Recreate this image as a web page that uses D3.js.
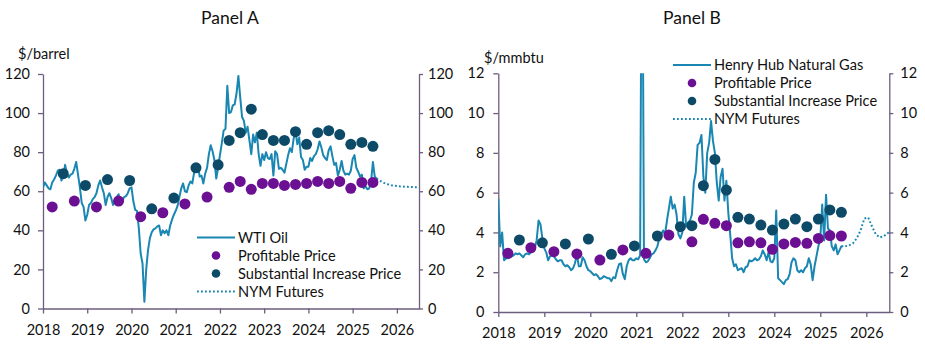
<!DOCTYPE html>
<html>
<head>
<meta charset="utf-8">
<script src="https://cdn.jsdelivr.net/npm/d3@7"></script>
<style>
  body { margin: 0; background: #fff; }
  svg { font-family: Lato, "Open Sans", sans-serif; }
  .axis path, .axis line { stroke: #6e5d7e; stroke-width: 1.3; }
  .axis text { font-size: 14.5px; fill: #111; font-family: Lato, sans-serif; }
  .legend text { font-size: 14.6px; fill: #111; }
</style>
</head>
<body>
<div id="chart"></div>
<script>
// 画布
const width = 925;
const height = 349;

// 坐标刻度
const years = [2018, 2019, 2020, 2021, 2022, 2023, 2024, 2025, 2026];
const oilTicks = [0, 20, 40, 60, 80, 100, 120];
const gasTicks = [0, 2, 4, 6, 8, 10, 12];

// WTI 油价, 半月一个点, 从 2018 年 1 月起
const wtiOil = [
    62, 64.5, 63, 61.5, 61, 64.5, 66, 68, 70.5, 71, 65.5, 68, 73.5, 69, 67, 68.5, 69, 71.5, 75, 68.5, 62, 54, 52, 45,
    48, 53, 54, 56, 57, 59, 63, 65.5, 62, 59, 53, 57, 59, 56.5, 53, 55.5, 57, 58.5, 53, 55, 57, 57.5, 59, 61.5,
    62, 55, 50.5, 50, 41, 28, 23, 3.5, 20, 30, 36, 39, 40.5, 41, 42, 42.5, 37.5, 40, 38.5, 40, 37.5, 42.5, 45.5, 48,
    50, 52.5, 57, 61.5, 64, 60, 59.5, 63, 65, 64, 69.5, 72, 74, 67.5, 68, 64, 69, 72, 79, 83.5, 80.5, 76, 66.5, 72,
    78.5, 84.5, 91, 92, 114, 100, 100.5, 104, 104.5, 110, 119, 108, 98, 96, 90, 93, 86, 79, 89, 85, 90, 79, 73, 79,
    76, 80, 77, 76.5, 79, 68, 80.5, 79, 71.5, 72, 71, 69.5, 74, 78.5, 82, 80, 87, 90.5, 84, 87.5, 77.5, 76, 71, 72.5,
    72.5, 77, 75.5, 78, 79, 81.5, 85.5, 82.5, 78.5, 77, 76, 81, 83, 78, 73.5, 74.5, 68, 71, 75.5, 70.5, 68.5, 69, 68.5, 70.5,
    76.5, 78.5, 72, 70, 67.5, 68.5, 61.5, 62.5, 61, 61.5, 65, 75, 67.5, 66.5
];

// Henry Hub 天然气, 半月一个点
const henryHub = [
    5.7, 3.3, 4.0, 2.6, 2.7, 2.7, 2.75, 2.8, 2.85, 2.95, 2.9, 2.95, 2.85, 2.75, 2.9, 2.95, 2.9, 3.0, 3.2, 3.2, 3.6, 4.6, 4.4, 3.7,
    3.2, 3.0, 2.6, 2.8, 2.85, 2.8, 2.65, 2.55, 2.6, 2.6, 2.4, 2.3, 2.35, 2.25, 2.1, 2.2, 2.45, 2.9, 2.3, 2.3, 2.75, 2.6, 2.3, 2.1,
    2.05, 1.95, 1.85, 1.9, 1.8, 1.65, 1.7, 1.8, 1.75, 1.7, 1.7, 1.55, 1.75, 1.7, 2.1, 2.4, 2.45, 1.9, 1.65, 2.3, 2.6, 2.7, 2.6, 2.6,
    2.7, 2.65, 2.85, 23.9, 2.65, 2.5, 2.55, 2.7, 2.9, 2.95, 3.1, 3.3, 3.7, 3.9, 4.1, 3.9, 4.6, 5.2, 5.8, 5.2, 5.4, 4.9, 3.9, 3.7,
    4.0, 5.8, 4.3, 4.5, 4.6, 4.9, 6.5, 7.0, 8.4, 8.5, 8.9, 6.8, 6.0, 8.0, 8.5, 9.6, 8.6, 8.0, 6.5, 5.6, 6.8, 7.2, 5.6, 6.6,
    5.0, 3.9, 2.7, 2.3, 2.4, 2.1, 2.15, 2.2, 2.0, 2.25, 2.3, 2.6, 2.55, 2.6, 2.7, 2.6, 2.65, 2.8, 3.1, 2.9, 2.6, 3.0, 2.55, 2.5,
    2.7, 5.1, 1.7, 1.6, 1.5, 1.4, 1.6, 1.65, 1.9, 2.5, 2.7, 2.6, 2.1, 2.0, 2.1, 2.0, 2.2, 2.3, 2.7, 2.4, 1.6, 2.3, 2.8, 3.3,
    3.7, 5.4, 3.6, 5.9, 4.2, 4.1, 3.3, 3.1, 3.4, 2.9, 3.1, 3.3, 3.3
];

// NYM 期货 (月份, 价格)
const oilFuturesMonths = ["2025-07", "2025-08", "2025-09", "2025-10", "2025-11", "2025-12", "2026-01", "2026-02", "2026-03", "2026-04", "2026-05", "2026-06", "2026-07"];
const oilFutures = [66.5, 65.3, 64.3, 63.6, 63.1, 62.8, 62.6, 62.4, 62.3, 62.2, 62.1, 62.1, 62.0];
const gasFuturesMonths = oilFuturesMonths;
const gasFutures = [3.3, 3.35, 3.45, 3.7, 4.1, 4.7, 4.75, 4.3, 3.9, 3.75, 3.8, 3.95, 4.1];

// 调查结果: 盈利价格 / 大幅增产价格
const profitMonths = ["2018-03", "2018-09", "2019-03", "2019-09", "2020-03", "2020-09", "2021-03", "2021-09",
    "2022-03", "2022-06", "2022-09", "2022-12", "2023-03", "2023-06", "2023-09", "2023-12",
    "2024-03", "2024-06", "2024-09", "2024-12", "2025-03", "2025-06"];
const increaseMonths = ["2018-06", "2018-12", "2019-06", "2019-12", "2020-06", "2020-12", "2021-06", "2021-12",
    "2022-03", "2022-06", "2022-09", "2022-12", "2023-03", "2023-06", "2023-09", "2023-12",
    "2024-03", "2024-06", "2024-09", "2024-12", "2025-03", "2025-06"];
const oilProfitable = [52, 55, 52, 55, 47, 49, 53.5, 57, 62, 65, 61, 64, 64, 63, 63.5, 64, 65, 64, 65, 61.5, 64.5, 64.5];
const oilIncrease = [69, 63, 66, 65.5, 51, 56.5, 72, 73.5, 86, 90, 102, 89, 86, 86, 90.5, 84, 90, 91, 89, 84, 85, 83];
const gasProfitable = [2.95, 3.23, 3.03, 2.92, 2.61, 3.12, 2.95, 3.87, 3.53, 4.66, 4.46, 4.34, 3.48, 3.53, 3.48, 3.15, 3.42, 3.5, 3.45, 3.7, 3.84, 3.82];
const gasIncrease = [3.62, 3.48, 3.42, 3.67, 2.9, 3.32, 3.82, 4.29, 4.34, 6.35, 7.67, 6.13, 4.76, 4.67, 4.37, 4.12, 4.42, 4.67, 4.29, 4.67, 5.13, 5.01];

// 颜色
const lineColor = "#1a86b2";
const profitColor = "#6b0f93";
const increaseColor = "#0c4a68";

function monthToYear(m) {
    let p = m.split("-");
    return +p[0] + (+p[1] - 0.5) / 12;
}

function halfMonthSeries(values) {
    return values.map((v, i) => ({t: 2018 + i / 24, v: v}));
}

function pairs(months, values) {
    return months.map((m, i) => ({t: monthToYear(m), v: values[i]}));
}

var svg = d3.select("#chart").append("svg")
    .attr("width", width).attr("height", height);

const panels = [
    {
        id: "A", title: "Panel A", titleX: 230, unit: "$/barrel", unitX: 18, unitY: 59,
        x0: 43, x1: 419, yBottom: 308.5, yTop: 74, yMax: 120, ticks: oilTicks,
        leftPad: 8, rightSize: 4, rightPad: 5, bottomPad: 11,
        line: halfMonthSeries(wtiOil), futures: pairs(oilFuturesMonths, oilFutures),
        profit: pairs(profitMonths, oilProfitable), increase: pairs(increaseMonths, oilIncrease),
        legendName: "WTI Oil", legendX: 197, legendY: 237.5
    },
    {
        id: "B", title: "Panel B", titleX: 692, unit: "$/mmbtu", unitX: 484, unitY: 63,
        x0: 498.3, x1: 889.3, yBottom: 312, yTop: 73.3, yMax: 12, ticks: gasTicks,
        leftPad: 9, rightSize: 4, rightPad: 7, bottomPad: 11,
        line: halfMonthSeries(henryHub), futures: pairs(gasFuturesMonths, gasFutures),
        profit: pairs(profitMonths, gasProfitable), increase: pairs(increaseMonths, gasIncrease),
        legendName: "Henry Hub Natural Gas", legendX: 673, legendY: 65
    }
];

panels.forEach(draw_panel);

function draw_panel(p) {
    let x = d3.scaleLinear().domain([2018, 2026.5]).range([p.x0, p.x1]);
    let y = d3.scaleLinear().domain([0, p.yMax]).range([p.yBottom, p.yTop]);
    let g = svg.append("g").attr("id", "panel_" + p.id);

    // 标题和单位
    g.append("text").attr("x", p.titleX).attr("y", 24)
        .attr("text-anchor", "middle").attr("font-size", 17.5).attr("fill", "#111")
        .text(p.title);
    g.append("text").attr("x", p.unitX).attr("y", p.unitY)
        .attr("font-size", 14.5).attr("fill", "#111")
        .text(p.unit);

    // 坐标轴
    g.append("g").attr("class", "axis")
        .attr("transform", "translate(" + p.x0 + ",0)")
        .call(d3.axisLeft(y).tickValues(p.ticks).tickSize(5).tickSizeOuter(0).tickPadding(p.leftPad));
    g.append("g").attr("class", "axis")
        .attr("transform", "translate(" + p.x1 + ",0)")
        .call(d3.axisRight(y).tickValues(p.ticks).tickSize(p.rightSize).tickSizeOuter(0).tickPadding(p.rightPad));
    g.append("g").attr("class", "axis")
        .attr("transform", "translate(0," + p.yBottom + ")")
        .call(d3.axisBottom(x).tickValues(years).tickFormat(d3.format("d"))
            .tickSize(5).tickSizeOuter(0).tickPadding(p.bottomPad));

    // 裁剪区域
    svg.append("clipPath").attr("id", "clip_" + p.id)
        .append("rect")
        .attr("x", p.x0).attr("y", p.yTop)
        .attr("width", p.x1 - p.x0).attr("height", p.yBottom - p.yTop);

    let plot = g.append("g").attr("clip-path", "url(#clip_" + p.id + ")");
    let lineGen = d3.line().x(d => x(d.t)).y(d => y(d.v));

    plot.append("path").datum(p.line)
        .attr("d", lineGen)
        .attr("fill", "none").attr("stroke", lineColor)
        .attr("stroke-width", 2).attr("stroke-linejoin", "round");

    plot.append("path").datum(p.futures)
        .attr("d", lineGen)
        .attr("fill", "none").attr("stroke", lineColor)
        .attr("stroke-width", 2).attr("stroke-dasharray", "1.8,2.2");

    plot.selectAll(".profit").data(p.profit).enter()
        .append("circle").attr("class", "profit")
        .attr("cx", d => x(d.t)).attr("cy", d => y(d.v))
        .attr("r", 5.5).attr("fill", profitColor);

    plot.selectAll(".increase").data(p.increase).enter()
        .append("circle").attr("class", "increase")
        .attr("cx", d => x(d.t)).attr("cy", d => y(d.v))
        .attr("r", 5.5).attr("fill", increaseColor);

    // 图例
    let lg = g.append("g").attr("class", "legend")
        .attr("transform", "translate(" + p.legendX + "," + p.legendY + ")");
    let items = [
        {name: p.legendName, kind: "line"},
        {name: "Profitable Price", kind: "dot", color: profitColor},
        {name: "Substantial Increase Price", kind: "dot", color: increaseColor},
        {name: "NYM Futures", kind: "dash"}
    ];
    items.forEach(function (it, i) {
        let row = lg.append("g").attr("transform", "translate(0," + (i * 18) + ")");
        if (it.kind === "dot") {
            row.append("circle").attr("cx", 19).attr("cy", 0).attr("r", 4.3).attr("fill", it.color);
        } else {
            row.append("line").attr("x1", 0).attr("x2", 38).attr("y1", 0).attr("y2", 0)
                .attr("stroke", lineColor).attr("stroke-width", 2)
                .attr("stroke-dasharray", it.kind === "dash" ? "1.8,2.2" : null);
        }
        row.append("text").attr("x", 41).attr("y", 0).attr("dy", "0.35em").text(it.name);
    });
}
</script>
</body>
</html>
